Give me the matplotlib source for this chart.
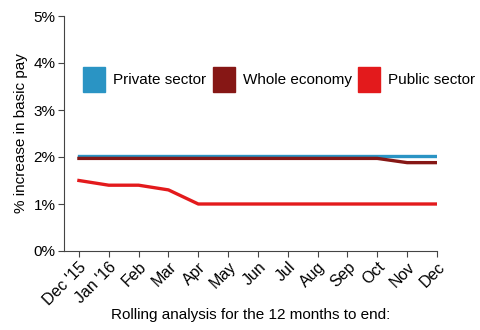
import matplotlib
matplotlib.use("Agg")
import matplotlib.pyplot as plt
from matplotlib.patches import Patch

months = ["Dec '15", "Jan '16", "Feb", "Mar", "Apr", "May", "Jun", "Jul", "Aug", "Sep", "Oct", "Nov", "Dec"]
private = [2.03] * 13
whole = [1.97, 1.97, 1.97, 1.97, 1.97, 1.97, 1.97, 1.97, 1.97, 1.97, 1.97, 1.88, 1.88]
public = [1.5, 1.4, 1.4, 1.3, 1.0, 1.0, 1.0, 1.0, 1.0, 1.0, 1.0, 1.0, 1.0]

c_priv = "#2a94c4"
c_whole = "#861715"
c_pub = "#e31a1c"

plt.rcParams['font.family'] = ['Liberation Sans', 'DejaVu Sans']
fig = plt.figure(figsize=(4.8, 3.3), dpi=100)
ax = fig.add_axes([64/480, 1 - 251/330, (437-64)/480, (251-16)/330])
x = list(range(len(months)))
ax.plot(x, private, color=c_priv, lw=2.4)
ax.plot(x, whole, color=c_whole, lw=2.4)
ax.plot(x, public, color=c_pub, lw=2.4)
ax.set_xlim(-0.5, 12)
ax.set_ylim(0, 5)
ax.set_yticks([0, 1, 2, 3, 4, 5])
ax.set_yticklabels([f"{v}%" for v in range(6)], fontsize=11)
ax.set_xticks(x)
ax.set_xticklabels(months, rotation=45, ha='right', rotation_mode='anchor', fontsize=11.5)
for s in ['top', 'right']:
    ax.spines[s].set_visible(False)
for s in ['left', 'bottom']:
    ax.spines[s].set_color('#444444')
    ax.spines[s].set_linewidth(0.8)
ax.tick_params(length=4, width=0.8, color='#444444', pad=2)
ax.set_ylabel("% increase in basic pay", fontsize=11)
ax.set_xlabel("Rolling analysis for the 12 months to end:", fontsize=11, labelpad=0)
handles = [Patch(color=c_priv), Patch(color=c_whole), Patch(color=c_pub)]
ax.legend(handles, ["Private sector", "Whole economy", "Public sector"], loc='center',
          bbox_to_anchor=(0.577, 0.73), ncol=3, frameon=False, fontsize=11,
          handlelength=1.44, handleheight=2.05, handletextpad=0.5, columnspacing=0.45,
          borderpad=0)
fig.savefig("out.png", dpi=100)
